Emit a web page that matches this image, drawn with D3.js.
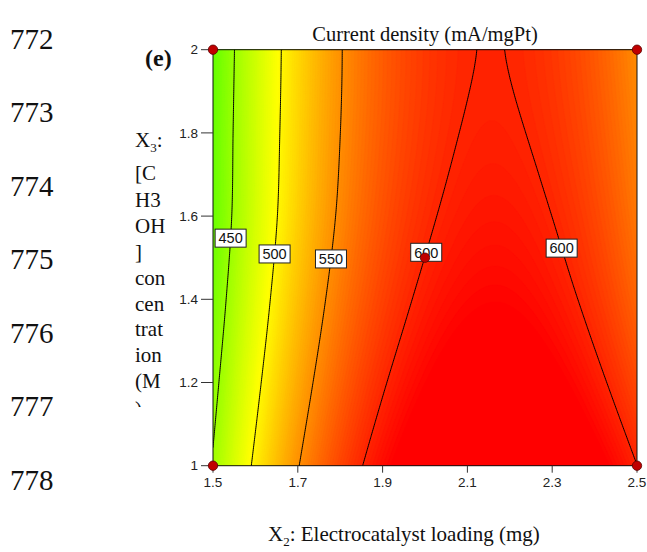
<!DOCTYPE html>
<html>
<head>
<meta charset="utf-8">
<script src="https://cdn.jsdelivr.net/npm/d3@7"></script>
<style>
  html, body { margin: 0; padding: 0; background: #fff; }
  svg { display: block; }
</style>
</head>
<body>
<svg id="chart" width="647" height="552"></svg>
<script>
// X2: electrocatalyst loading (mg), one value per grid column
const loadingX2 = [1.5, 1.6, 1.7, 1.8, 1.9, 2.0, 2.1, 2.2, 2.3, 2.4, 2.5];
// X3: CH3OH concentration (M), one value per grid row
const concX3 = [1.0, 1.2, 1.4, 1.6, 1.8, 2.0];
// current density (mA/mgPt); rows follow concX3, columns follow loadingX2
const density = [
  [452.2, 504.7, 548.7, 584.5, 611.8, 630.8, 641.4, 643.7, 637.6, 623.1, 600.2],
  [442.4, 493.6, 536.6, 571.3, 597.8, 615.9, 625.8, 627.4, 620.7, 605.8, 582.6],
  [433.4, 484.1, 526.6, 560.8, 586.7, 604.5, 613.9, 615.2, 608.2, 593.0, 569.5],
  [426.7, 477.1, 519.3, 553.3, 579.1, 596.6, 605.9, 607.0, 599.9, 584.6, 561.0],
  [425.5, 475.1, 516.6, 549.9, 575.1, 592.1, 601.1, 601.8, 594.5, 579.0, 555.4],
  [423.7, 473.6, 515.2, 548.6, 573.7, 590.6, 599.2, 599.6, 591.6, 575.4, 551.0]
];
// iso-lines that are drawn and labelled
const contourLevels = [450, 500, 550, 600];
const labelLevels = [450, 500, 550, 600, 600];
const labelConc = [1.547, 1.509, 1.497, 1.513, 1.523];
const labelCrossing = [0, 0, 0, 0, 1];
// design points
const designX2 = [1.5, 2.5, 1.5, 2.5, 2.0];
const designX3 = [2.0, 2.0, 1.0, 1.0, 1.5];
// axis ticks
const xTicks = [1.5, 1.7, 1.9, 2.1, 2.3, 2.5];
const yTicks = [1, 1.2, 1.4, 1.6, 1.8, 2];
// manuscript line numbers in the margin
const lineNumbers = ["772", "773", "774", "775", "776", "777", "778"];
// wrapped Y-axis title
const yTitleLines = ["X|3|:", "[C", "H3", "OH", "]", "con", "cen", "trat", "ion", "(M", ")"];

const svg = d3.select("#chart");
const serif = "'Liberation Serif', 'Times New Roman', serif";
const sans = "'Liberation Sans', Arial, sans-serif";

const x = d3.scaleLinear().domain([1.5, 2.5]).range([213, 637]);
const y = d3.scaleLinear().domain([1, 2]).range([465.7, 49.7]);

const color = d3.scaleLinear()
  .domain([377, 497, 617])
  .range(["#00ff00", "#ffff00", "#ff0000"])
  .clamp(true);

// ---- smooth surface from the tabulated values (Catmull-Rom both ways) ----
function catmull(p0, p1, p2, p3, t) {
  return 0.5 * (2 * p1 + (-p0 + p2) * t + (2 * p0 - 5 * p1 + 4 * p2 - p3) * t * t +
    (-p0 + 3 * p1 - 3 * p2 + p3) * t * t * t);
}
function sample1(arr, u) {
  const n = arr.length;
  const e = [3 * arr[0] - 3 * arr[1] + arr[2], ...arr, 3 * arr[n - 1] - 3 * arr[n - 2] + arr[n - 3]];
  const i = Math.max(0, Math.min(Math.floor(u), n - 2));
  return catmull(e[i], e[i + 1], e[i + 2], e[i + 3], u - i);
}

const xMin = d3.min(loadingX2), xMax = d3.max(loadingX2);
const yMin = d3.min(concX3), yMax = d3.max(concX3);
const dxData = loadingX2[1] - loadingX2[0];
const dyData = concX3[1] - concX3[0];
const NX = 213, NY = 209;

const rowsFine = density.map(row =>
  d3.range(NX).map(i => sample1(row, i * (loadingX2.length - 1) / (NX - 1))));

function valueAt(i, yv) {
  const col = rowsFine.map(r => r[i]);
  return sample1(col, (yv - yMin) / dyData);
}

const grid = new Float64Array(NX * NY);
for (let j = 0; j < NY; j++) {
  const yv = yMax - j * (yMax - yMin) / (NY - 1);
  for (let i = 0; i < NX; i++) grid[j * NX + i] = valueAt(i, yv);
}

const proj = d3.geoTransform({
  point(cx, cy) {
    this.stream.point(
      x(xMin + (cx - 0.5) * (xMax - xMin) / (NX - 1)),
      y(yMax - (cy - 0.5) * (yMax - yMin) / (NY - 1)));
  }
});
const path = d3.geoPath(proj);

// clip to the plot area
svg.append("defs").append("clipPath").attr("id", "plotClip")
  .append("rect")
  .attr("x", x(1.5)).attr("y", y(2))
  .attr("width", x(2.5) - x(1.5)).attr("height", y(1) - y(2));

const plot = svg.append("g").attr("clip-path", "url(#plotClip)");

const vMin = d3.min(grid), vMax = d3.max(grid);
plot.append("rect")
  .attr("x", x(1.5)).attr("y", y(2))
  .attr("width", x(2.5) - x(1.5)).attr("height", y(1) - y(2))
  .attr("fill", color(vMin));

const step = 2;
const bandThresholds = d3.range(Math.floor(vMin / step) * step + step, vMax, step);
const bands = d3.contours().size([NX, NY]).thresholds(bandThresholds)(grid);
plot.append("g").selectAll("path").data(bands).join("path")
  .attr("d", path)
  .attr("fill", d => color(d.value + step / 2))
  .attr("stroke", d => color(d.value + step / 2))
  .attr("stroke-width", 0.3);

// contour lines
const lines = d3.contours().size([NX, NY]).thresholds(contourLevels)(grid);
plot.append("g").selectAll("path").data(lines).join("path")
  .attr("d", path)
  .attr("fill", "none")
  .attr("stroke", "#000")
  .attr("stroke-width", 1);

// frame
svg.append("rect")
  .attr("x", x(1.5)).attr("y", y(2))
  .attr("width", x(2.5) - x(1.5)).attr("height", y(1) - y(2))
  .attr("fill", "none").attr("stroke", "#111").attr("stroke-width", 1);

// axes
const yAxis = svg.append("g");
yAxis.selectAll("line").data(yTicks).join("line")
  .attr("x1", x(1.5) - 12).attr("x2", x(1.5))
  .attr("y1", d => y(d)).attr("y2", d => y(d))
  .attr("stroke", "#333").attr("stroke-width", 1);
yAxis.selectAll("text").data(yTicks).join("text")
  .attr("x", x(1.5) - 15).attr("y", d => y(d) + 4.6)
  .attr("text-anchor", "end")
  .attr("font-family", sans).attr("font-size", 13.5).attr("fill", "#222")
  .text(d => d3.format("")(d));

const xAxis = svg.append("g");
xAxis.selectAll("line").data(xTicks).join("line")
  .attr("x1", d => x(d)).attr("x2", d => x(d))
  .attr("y1", y(1)).attr("y2", y(1) + 7)
  .attr("stroke", "#333").attr("stroke-width", 1);
xAxis.selectAll("text").data(xTicks).join("text")
  .attr("x", d => x(d)).attr("y", 487)
  .attr("text-anchor", "middle")
  .attr("font-family", sans).attr("font-size", 13.5).attr("fill", "#222")
  .text(d => d3.format(".1f")(d));

// contour value labels, placed where each iso-line crosses the given concentration
function crossingX(level, yv, k) {
  const found = [];
  let prev = valueAt(0, yv);
  for (let i = 1; i < NX; i++) {
    const cur = valueAt(i, yv);
    if ((prev - level) * (cur - level) <= 0 && prev !== cur) {
      const t = (level - prev) / (cur - prev);
      found.push(xMin + (i - 1 + t) * (xMax - xMin) / (NX - 1));
    }
    prev = cur;
  }
  return found[Math.min(k, found.length - 1)];
}
const labelG = svg.append("g");
labelLevels.forEach((lv, idx) => {
  const cx = x(crossingX(lv, labelConc[idx], labelCrossing[idx]));
  const cy = y(labelConc[idx]);
  const g = labelG.append("g");
  g.append("rect")
    .attr("x", cx - 15.5).attr("y", cy - 9)
    .attr("width", 31).attr("height", 18)
    .attr("fill", "#fff").attr("stroke", "#222").attr("stroke-width", 1);
  g.append("text")
    .attr("x", cx).attr("y", cy + 5.3)
    .attr("text-anchor", "middle")
    .attr("font-family", sans).attr("font-size", 14.5).attr("fill", "#111")
    .text(lv);
});

// design points
svg.append("g").selectAll("circle").data(designX2).join("circle")
  .attr("cx", d => x(d))
  .attr("cy", (d, i) => y(designX3[i]))
  .attr("r", 4.7)
  .attr("fill", "#c00000")
  .attr("stroke", "#5a0000").attr("stroke-width", 0.8);

// title
svg.append("text")
  .attr("x", x(2.0)).attr("y", 41)
  .attr("text-anchor", "middle")
  .attr("font-family", serif).attr("font-size", 20.5).attr("fill", "#111")
  .text("Current density (mA/mgPt)");

// panel tag
svg.append("text")
  .attr("x", 145).attr("y", 66)
  .attr("font-family", serif).attr("font-size", 24).attr("font-weight", "bold")
  .attr("fill", "#111")
  .text("(e)");

// X axis title
const xt = svg.append("text")
  .attr("x", 268).attr("y", 541)
  .attr("font-family", serif).attr("font-size", 21).attr("fill", "#111");
xt.append("tspan").text("X");
xt.append("tspan").attr("font-size", 13).attr("dy", 5).text("2");
xt.append("tspan").attr("dy", -5).text(": Electrocatalyst loading (mg)");

// Y axis title (wrapped)
const yTitleBaselines = [146.7, 180, 206.5, 233, 259, 284.5, 310.5, 336, 362, 388, 416];
svg.append("defs").append("clipPath").attr("id", "titleClip")
  .append("rect").attr("x", 100).attr("y", 100).attr("width", 100).attr("height", 307);
const yTitle = svg.append("g").attr("clip-path", "url(#titleClip)");
yTitleLines.forEach((ln, i) => {
  const t = yTitle.append("text")
    .attr("x", 135).attr("y", yTitleBaselines[i])
    .attr("font-family", serif).attr("font-size", 21).attr("fill", "#111");
  const parts = ln.split("|");
  if (parts.length === 3) {
    t.append("tspan").text(parts[0]);
    t.append("tspan").attr("font-size", 13).attr("dy", 5).text(parts[1]);
    t.append("tspan").attr("dy", -5).text(parts[2]);
  } else {
    t.text(ln);
  }
});

// margin line numbers
svg.append("g").selectAll("text").data(lineNumbers).join("text")
  .attr("x", 10)
  .attr("y", (d, i) => 48.5 + i * 73.5)
  .attr("font-family", serif).attr("font-size", 29).attr("fill", "#111")
  .text(d => d);
</script>
</body>
</html>
